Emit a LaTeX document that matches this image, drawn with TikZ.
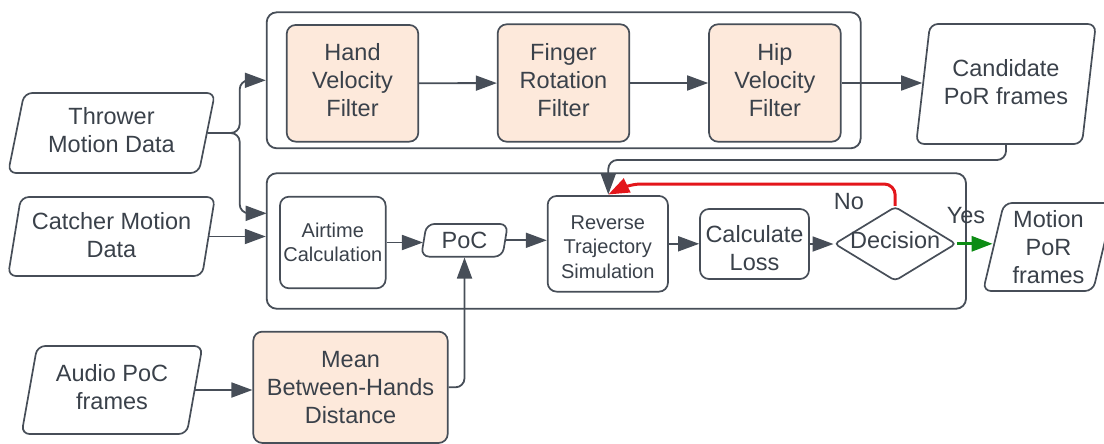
\documentclass[tikz,border=0pt]{standalone}
\usepackage{fontspec}
\setmainfont{Liberation Sans}
\usetikzlibrary{arrows.meta,shapes.geometric}
\definecolor{ink}{HTML}{3A414A}
\definecolor{wire}{HTML}{474E58}
\definecolor{peach}{HTML}{FDE9DB}
\definecolor{nored}{HTML}{E3161B}
\definecolor{yesgreen}{HTML}{0C8C14}

\begin{document}
\begin{tikzpicture}[x=1pt,y=-1pt,
  every node/.style={text=ink, font=\fontsize{23.5}{28}\selectfont, align=center, inner sep=0pt},
  smalltext/.style={font=\fontsize{20}{24.5}\selectfont},
  group/.style={draw=wire, line width=1.8pt, rounded corners=10pt},
  box/.style={draw=wire, line width=1.7pt, rounded corners=9pt},
  filterbox/.style={box, fill=peach},
  io/.style={trapezium, trapezium left angle=77, trapezium right angle=103,
    trapezium stretches=true, draw=wire, line width=1.7pt, rounded corners=8pt},
  choice/.style={diamond, draw=wire, line width=1.7pt, rounded corners=4pt},
  arr/.style={draw=wire, line width=1.8pt, rounded corners=9pt, -{Triangle[length=21pt,width=15pt]}},
  noarr/.style={arr, draw=nored, line width=3pt, rounded corners=11pt},
  yesarr/.style={arr, draw=yesgreen, line width=3pt},
]
\useasboundingbox (0,0) rectangle (1104,444);

% group frames
\node[group, minimum width=594, minimum height=136] (topgrp) at (563.7,80.3) {};
\node[group, minimum width=699.3, minimum height=135.5] (botgrp) at (616.35,241) {};

% inputs and outputs
\node[io, minimum width=207, minimum height=80, text depth=6pt] (thrower) at (111.5,133) {Thrower\\Motion Data};
\node[io, minimum width=207, minimum height=79, text depth=4pt] (catcher) at (111.5,236.5) {Catcher Motion\\Data};
\node[io, minimum width=181, minimum height=88, text depth=6pt] (audio) at (112,390) {Audio PoC\\frames};
\node[io, minimum width=180, minimum height=120, text depth=4pt] (cand) at (1006,84) {Candidate\\PoR frames};
\node[io, minimum width=131, minimum height=88] (motion) at (1048.5,247) {Motion\\PoR\\frames};

% filter stage
\node[filterbox, minimum width=131.6, minimum height=116.7, text depth=6pt] (hand) at (352.5,83.3) {Hand\\Velocity\\Filter};
\node[filterbox, minimum width=131.6, minimum height=117.4, text depth=6pt] (finger) at (563.5,83) {Finger\\Rotation\\Filter};
\node[filterbox, minimum width=131.7, minimum height=117.4, text depth=6pt] (hip) at (774.9,83) {Hip\\Velocity\\Filter};

% simulation stage
\node[box, smalltext, minimum width=105.7, minimum height=91.6] (air) at (332.8,242.5) {Airtime\\Calculation};
\node[io, trapezium left angle=79, trapezium right angle=101, minimum width=87, minimum height=32.7] (poc) at (464.5,240.3) {PoC};
\node[box, smalltext, minimum width=120.3, minimum height=95.7] (rev) at (607.8,243.8) {\rule{0pt}{20.5pt}Reverse\\Trajectory\\Simulation};
\node[box, minimum width=109, minimum height=70] (calc) at (754.5,244) {\rule{0pt}{26pt}Calculate\\Loss};
\node[choice, minimum width=121.7, minimum height=74.3, label={[yshift=3.5pt]center:Decision}] (dec) at (895.2,243.8) {};
\node[filterbox, minimum width=194.4, minimum height=111.3] (mean) at (350.5,387.3) {Mean\\Between-Hands\\Distance};

% branch labels
\node (nolab) at (849,202) {No};
\node (yeslab) at (966,216) {Yes};

% connector end points
\coordinate (feedA) at (266.7,213.3);
\coordinate (nobend) at (630,184);
\coordinate (revtop) at (608.3,194.5);

% connectors
\draw[arr] (thrower.east) -- ++(32,0) |- (topgrp.west);
\draw[arr] (thrower.east) -- ++(32,0) |- (feedA);
\draw[arr] (catcher.east) -- (catcher.east -| botgrp.west);
\draw[arr] (hand) -- (finger);
\draw[arr] (finger) -- (hip);
\draw[arr] (hip.east) -- (hip.east -| cand.west);
\draw[arr] (cand.south) -- (cand.south |- 0,160) -| (revtop);
\draw[arr] (air.east) -- (air.east -| poc.west);
\draw[arr] (poc.east) -- (poc.east -| rev.west);
\draw[arr] (rev.east) -- (rev.east -| calc.west);
\draw[arr] (calc.east) -- (calc.east -| dec.west);
\draw[noarr] (dec.north) -- (dec.north |- nobend) -- (nobend) -- (revtop);
\draw[yesarr] (dec.east) -- (dec.east -| motion.west);
\draw[arr] (audio.east) -- (audio.east -| mean.west);
\draw[arr] (mean.east) -| (poc.south);
\end{tikzpicture}
\end{document}
